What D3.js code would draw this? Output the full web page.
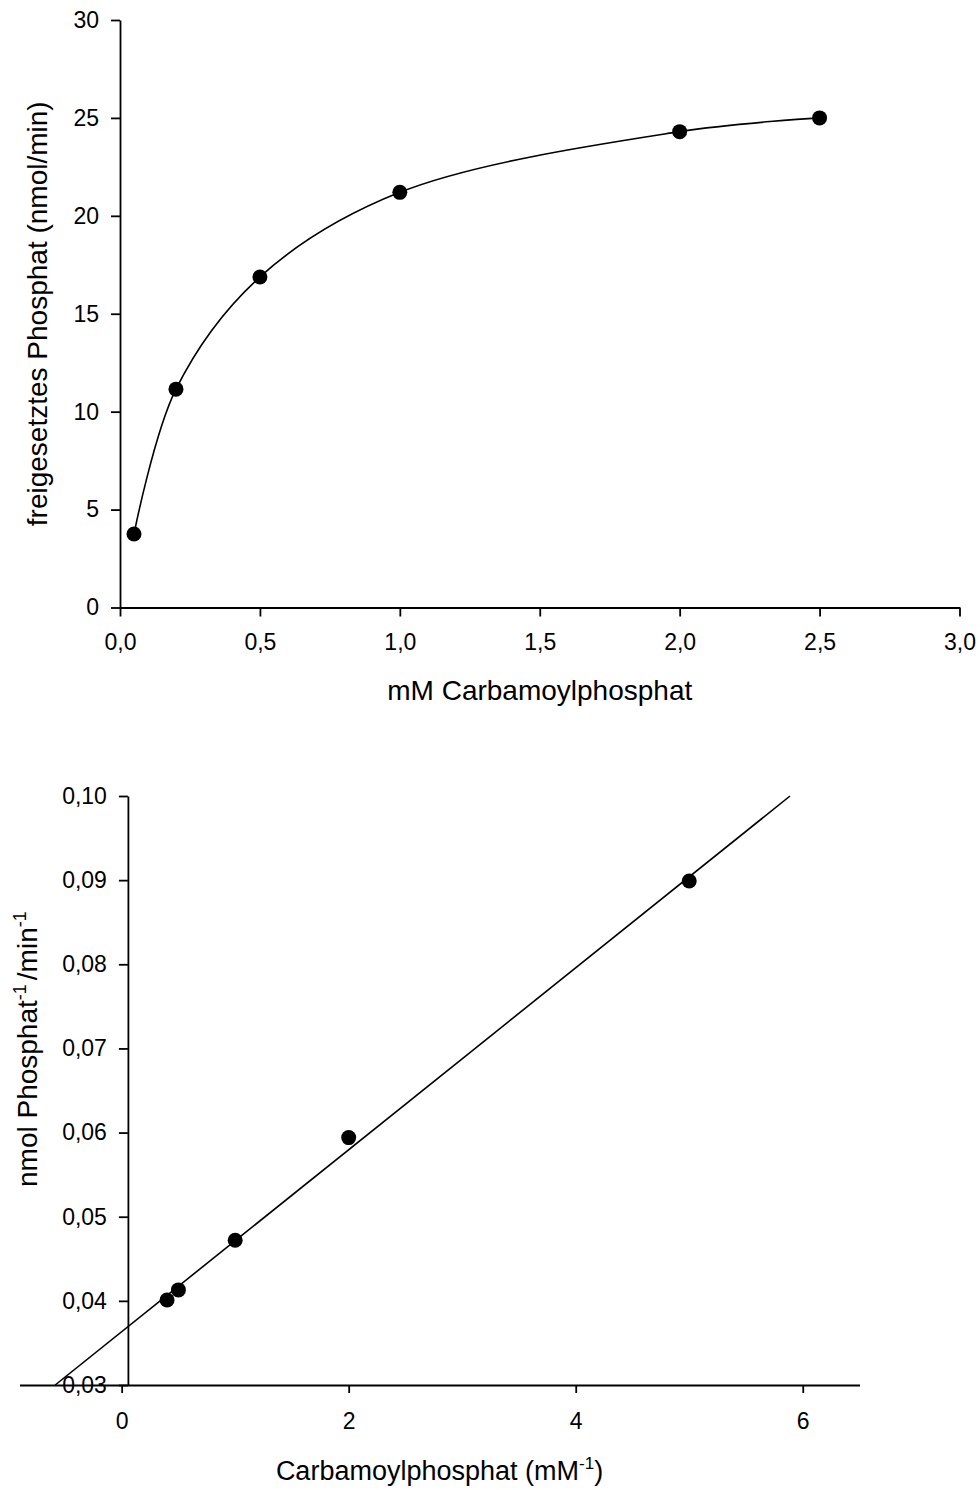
<!DOCTYPE html>
<html>
<head>
<meta charset="utf-8">
<script src="https://cdn.jsdelivr.net/npm/d3@7"></script>
<style>
  body { margin: 0; background: #fff; }
  svg { display: block; font-family: "Liberation Sans", Arial, sans-serif; }
</style>
</head>
<body>
<div id="chart"></div>
<script>
// top plot: substrate saturation
const conc = [0.05, 0.2, 0.5, 1.0, 2.0, 2.5];
const rate = [3.75, 11.15, 16.88, 21.2, 24.3, 25.0];
const topXTicks = [0, 0.5, 1.0, 1.5, 2.0, 2.5, 3.0];
const topYTicks = [0, 5, 10, 15, 20, 25, 30];

// bottom plot: Lineweaver-Burk
const invConc = [0.4, 0.5, 1.0, 2.0, 5.0];
const invRate = [0.0401, 0.0413, 0.0472, 0.0594, 0.0899];
const botXTicks = [0, 2, 4, 6];
const botYTicks = [0.03, 0.04, 0.05, 0.06, 0.07, 0.08, 0.09, 0.10];

const W = 980, H = 1490;

const svg = d3.select('#chart')
  .append('svg')
  .attr('width', W)
  .attr('height', H);

function styleAxis(g) {
  g.attr('font-size', 23)
    .attr('font-family', null);
  g.selectAll('path, line').attr('stroke', '#000').attr('stroke-width', 1.8);
  g.selectAll('text').attr('fill', '#000');
}

// ---------- top chart ----------
const x1 = d3.scaleLinear().domain([0, 3]).range([120, 959.5]);
const y1 = d3.scaleLinear().domain([0, 30]).range([607.5, 20]);

svg.append('g')
  .attr('transform', `translate(0,${y1(0)})`)
  .call(d3.axisBottom(x1).tickValues(topXTicks)
    .tickFormat(d => d3.format('.1f')(d).replace('.', ','))
    .tickSize(9).tickSizeOuter(0).tickPadding(17))
  .call(styleAxis);

svg.append('g')
  .attr('transform', `translate(${x1(0)},0)`)
  .call(d3.axisLeft(y1).tickValues(topYTicks)
    .tickFormat(d3.format('d'))
    .tickSize(9).tickSizeOuter(0).tickPadding(12))
  .call(styleAxis);

svg.append('path')
  .datum(conc.map((c, i) => [c, rate[i]]))
  .attr('fill', 'none')
  .attr('stroke', '#000')
  .attr('stroke-width', 1.6)
  .attr('d', d3.line()
    .x(d => x1(d[0]))
    .y(d => y1(d[1]))
    .curve(d3.curveCatmullRom.alpha(0.5)));

svg.append('g')
  .selectAll('circle')
  .data(conc)
  .join('circle')
  .attr('cx', d => x1(d))
  .attr('cy', (d, i) => y1(rate[i]))
  .attr('r', 7.5)
  .attr('fill', '#000');

svg.append('text')
  .attr('x', (x1.range()[0] + x1.range()[1]) / 2)
  .attr('y', 700)
  .attr('text-anchor', 'middle')
  .attr('font-size', 28)
  .text('mM Carbamoylphosphat');

svg.append('text')
  .attr('transform', `translate(47,${(y1.range()[0] + y1.range()[1]) / 2}) rotate(-90)`)
  .attr('text-anchor', 'middle')
  .attr('font-size', 28)
  .text('freigesetztes Phosphat (nmol/min)');

// ---------- bottom chart ----------
const x2 = d3.scaleLinear().domain([-0.9, 6.5]).range([19.5, 859.5]);
const y2 = d3.scaleLinear().domain([0.03, 0.10]).range([1385, 796]);
const yAxisAt = 0.055;

svg.append('g')
  .attr('transform', `translate(0,${y2(0.03)})`)
  .call(d3.axisBottom(x2).tickValues(botXTicks)
    .tickFormat(d3.format('d'))
    .tickSize(8).tickSizeOuter(0).tickPadding(20))
  .call(styleAxis);

svg.append('g')
  .attr('transform', `translate(${x2(yAxisAt)},0)`)
  .call(d3.axisLeft(y2).tickValues(botYTicks)
    .tickFormat(d => d3.format('.2f')(d).replace('.', ','))
    .tickSize(9).tickSizeOuter(0).tickPadding(12))
  .call(styleAxis);

// least squares fit of the reciprocal data
const mx = d3.mean(invConc), my = d3.mean(invRate);
const slope = d3.sum(invConc, (v, i) => (v - mx) * (invRate[i] - my)) /
              d3.sum(invConc, v => (v - mx) * (v - mx));
const icpt = my - slope * mx;
const [yLo, yHi] = y2.domain();
const fitEnds = [(yLo - icpt) / slope, (yHi - icpt) / slope]
  .map(v => Math.max(x2.domain()[0], Math.min(x2.domain()[1], v)));

svg.append('path')
  .datum(fitEnds)
  .attr('fill', 'none')
  .attr('stroke', '#000')
  .attr('stroke-width', 1.6)
  .attr('d', d3.line()
    .x(d => x2(d))
    .y(d => y2(icpt + slope * d)));

svg.append('g')
  .selectAll('circle')
  .data(invConc)
  .join('circle')
  .attr('cx', d => x2(d))
  .attr('cy', (d, i) => y2(invRate[i]))
  .attr('r', 7.5)
  .attr('fill', '#000');

const xt = svg.append('text')
  .attr('x', (x2.range()[0] + x2.range()[1]) / 2)
  .attr('y', 1480)
  .attr('text-anchor', 'middle')
  .attr('font-size', 27);
xt.append('tspan').text('Carbamoylphosphat (mM');
xt.append('tspan').attr('font-size', 17).attr('dy', -11).text('-1');
xt.append('tspan').attr('dy', 11).text(')');

const yt = svg.append('text')
  .attr('transform', `translate(37,1187) rotate(-90)`)
  .attr('text-anchor', 'start')
  .attr('font-size', 28);
yt.append('tspan').text('nmol Phosphat');
yt.append('tspan').attr('font-size', 18).attr('dy', -11).text('-1');
yt.append('tspan').attr('dy', 11).attr('dx', 4).text('/min');
yt.append('tspan').attr('font-size', 18).attr('dy', -11).text('-1');
</script>
</body>
</html>
